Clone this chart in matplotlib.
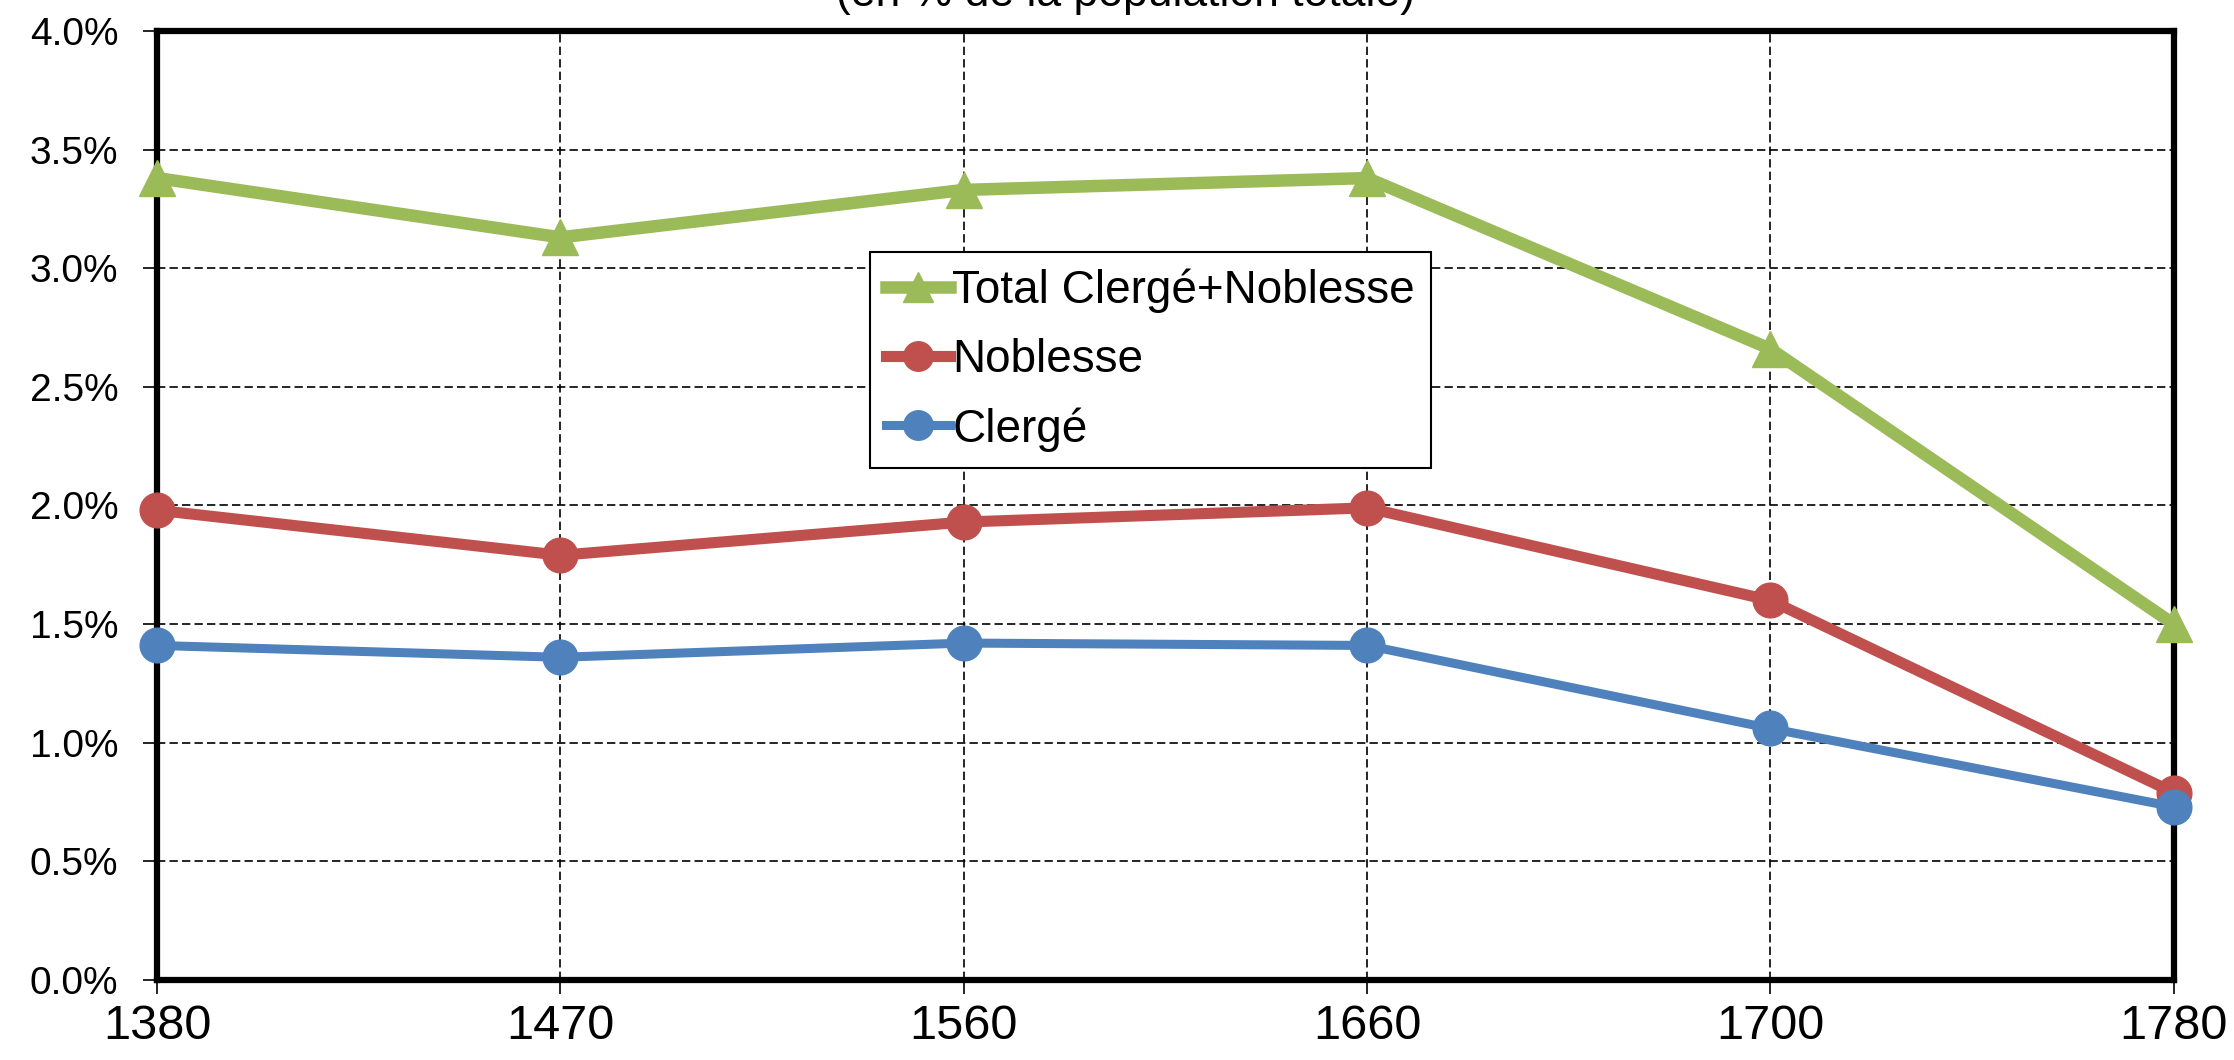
import numpy as np
import matplotlib
matplotlib.use("Agg")
import matplotlib.pyplot as plt

#----------------------------------------------------------------------------------------#
# Data (values in % of total population)

years = ['1380', '1470', '1560', '1660', '1700', '1780']
total = [3.38, 3.13, 3.33, 3.38, 2.66, 1.50]
noblesse = [1.98, 1.79, 1.93, 1.99, 1.60, 0.79]
clerge = [1.41, 1.36, 1.42, 1.41, 1.06, 0.73]

y_ticks = [0.0, 0.5, 1.0, 1.5, 2.0, 2.5, 3.0, 3.5, 4.0]

#----------------------------------------------------------------------------------------#
# Plot

plt.rcParams['font.family'] = ['Liberation Sans', 'DejaVu Sans']

fig = plt.figure(figsize=(22.34, 10.6), dpi=100)
ax = fig.add_axes([0.0703, 0.0755, 0.9027, 0.8953])

x = np.arange(len(years))

ax.plot(x, total, color='#9BBB59', lw=9, marker='^', ms=26, mec='#9BBB59',
        label='Total Clergé+Noblesse', zorder=5, clip_on=False)
ax.plot(x, noblesse, color='#C0504D', lw=8, marker='o', ms=25, mec='#C0504D',
        label='Noblesse', zorder=5, clip_on=False)
ax.plot(x, clerge, color='#4F81BD', lw=6.5, marker='o', ms=25, mec='#4F81BD',
        label='Clergé', zorder=5, clip_on=False)

ax.set_xlim(0, len(years) - 1)
ax.set_ylim(0, 4.0)
ax.set_xticks(x)
ax.set_xticklabels(years, fontsize=35)
ax.set_yticks(y_ticks)
ax.set_yticklabels(['%.1f%%' % v for v in y_ticks], fontsize=28)

ax.tick_params(axis='both', direction='out', length=10, width=1.2, color='black')
ax.tick_params(axis='x', pad=7)
ax.tick_params(axis='y', pad=18)

ax.grid(True, color='black', lw=1.2, ls=(0, (5, 2.5)))
ax.set_axisbelow(True)

for s in ax.spines.values():
    s.set_linewidth(4.5)
    s.set_color('black')
    s.set_zorder(4)

leg = ax.legend(loc='upper left', bbox_to_anchor=(0.3535, 0.767), fontsize=33,
                frameon=True, fancybox=False, shadow=False, handlelength=1.4,
                handletextpad=0.05, labelspacing=0.55, borderpad=0.35,
                borderaxespad=0, markerscale=0.85)
leg.get_frame().set_edgecolor('black')
leg.get_frame().set_linewidth(1.5)
leg.get_frame().set_alpha(1)

# title line is cut off at the top edge, as in the source image
fig.text(0.504, 1 - 6 / 1060, '(en % de la population totale)', fontsize=32,
         ha='center', va='baseline')

plt.savefig('out.png', dpi=100)
